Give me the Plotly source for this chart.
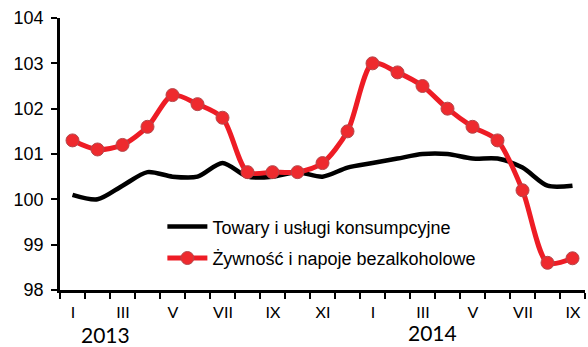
import plotly.graph_objects as go

# Monthly indices, Jan 2013 - Sep 2014 (corresponding period of previous year = 100)
months = ["I", "II", "III", "IV", "V", "VI", "VII", "VIII", "IX", "X", "XI", "XII",
          "I", "II", "III", "IV", "V", "VI", "VII", "VIII", "IX"]
goods_services = [100.1, 100.0, 100.3, 100.6, 100.5, 100.5, 100.8, 100.5, 100.5, 100.6, 100.5, 100.7,
                  100.8, 100.9, 101.0, 101.0, 100.9, 100.9, 100.7, 100.3, 100.3]
food = [101.3, 101.1, 101.2, 101.6, 102.3, 102.1, 101.8, 100.6, 100.6, 100.6, 100.8, 101.5,
        103.0, 102.8, 102.5, 102.0, 101.6, 101.3, 100.2, 98.6, 98.7]
years = ["2013", "2014"]
year_pos = [1.3, 14.4]
year_height = [-0.163, -0.158]

x = list(range(len(months)))
# tick marks sit on month boundaries; every second month is labelled
boundaries = [i - 0.5 for i in range(len(months) + 1)]
boundary_text = [months[i] if i < len(months) and i % 2 == 0 else "" for i in range(len(months) + 1)]

fig = go.Figure()
fig.add_trace(go.Scatter(
    x=x, y=goods_services, mode="lines", name="Towary i usługi konsumpcyjne",
    legendgroup="g1",
    line=dict(color="black", width=4.5, shape="spline", smoothing=0.8),
))
fig.add_trace(go.Scatter(
    x=x, y=food, mode="lines+markers", name="Żywność i napoje bezalkoholowe",
    legendgroup="g2",
    line=dict(color="#EE1C25", width=5, shape="spline", smoothing=0.8),
    marker=dict(size=13, color="#EE2A2E", line=dict(color="#B5474B", width=1)),
))

for label, pos, h in zip(years, year_pos, year_height):
    fig.add_annotation(x=pos, y=h, xref="x", yref="paper", text=label, showarrow=False,
                       font=dict(family="Lato", size=21, color="black"),
                       xanchor="center", yanchor="middle", borderpad=0)

fig.update_layout(
    width=588, height=347,
    margin=dict(l=60, r=3, t=18, b=57),
    paper_bgcolor="white", plot_bgcolor="white",
    font=dict(family="Liberation Sans, Arial", size=18, color="black"),
    showlegend=True,
    legend=dict(x=0.195, y=0.30, xanchor="left", yanchor="top",
                bgcolor="rgba(0,0,0,0)", itemwidth=40,
                traceorder="grouped", tracegroupgap=5,
                font=dict(family="Liberation Sans, Arial", size=18, color="black")),
    xaxis=dict(
        range=[-0.5, len(months) - 0.5],
        tickmode="array", tickvals=boundaries, ticktext=boundary_text,
        ticklabelshift=13,
        ticks="outside", ticklen=6, tickwidth=2, tickcolor="black",
        showline=True, linecolor="black", linewidth=2.5,
        showgrid=False, zeroline=False,
        tickfont=dict(family="Lato", size=16, color="black"),
    ),
    yaxis=dict(
        range=[98, 104], dtick=1, tick0=98,
        ticks="outside", ticklen=6, tickwidth=2, tickcolor="black",
        showline=True, linecolor="black", linewidth=2.5,
        showgrid=False, zeroline=False,
        ticklabelstandoff=4,
        tickfont=dict(family="Liberation Sans, Arial", size=18, color="black"),
    ),
)

fig.write_html("out.html")
